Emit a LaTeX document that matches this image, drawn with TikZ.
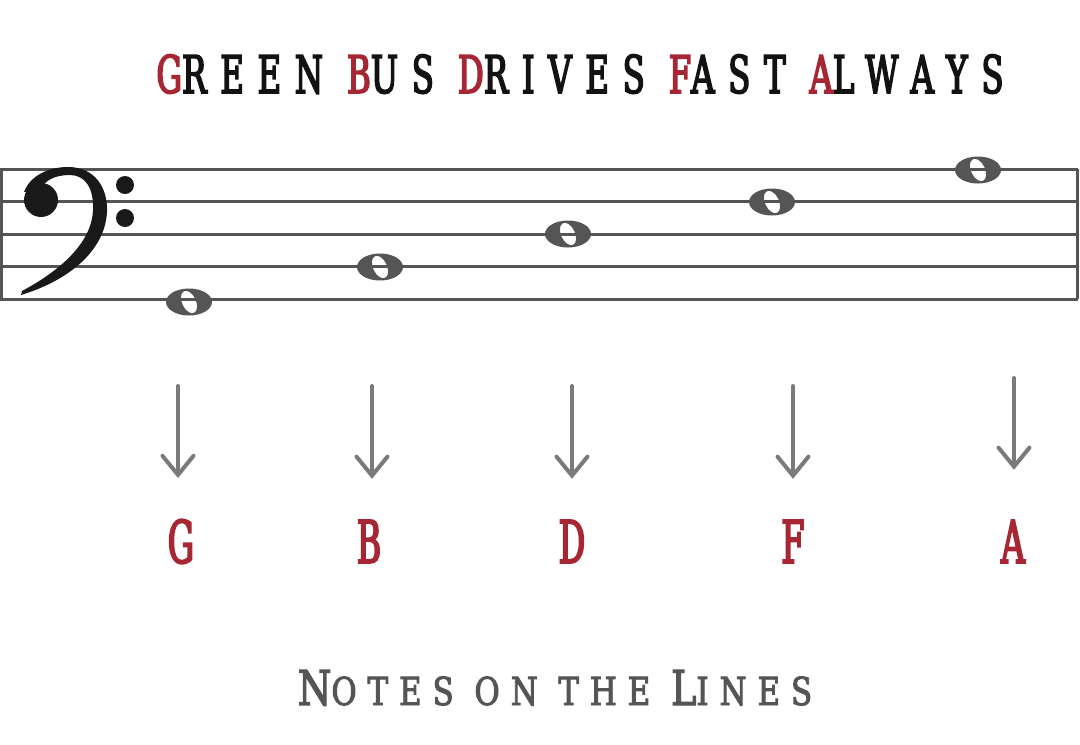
\documentclass[tikz,border=0pt]{standalone}
\usepackage{fontspec}
\usepackage{tikz}
\usetikzlibrary{
  arrows.meta,
}
\newfontfamily\titlefont[FakeStretch=0.62, FakeBold=3, LetterSpace=26.5]{DejaVu Serif}
\newfontfamily\letterfont[FakeStretch=0.56, FakeBold=3]{DejaVu Serif}
\newfontfamily\captionfont[FakeStretch=0.8, FakeBold=2.5, LetterSpace=28.5]{DejaVu Serif}
\definecolor{mnemored}{RGB}{166,38,52}
\definecolor{staffgray}{RGB}{85,85,85}
\definecolor{arrowgray}{RGB}{122,122,122}
\tikzset{
  staffline/.style = {
    staffgray,
    line width = 3pt
  },
  pointer/.style = {
    -{Straight Barb[length = 19pt, width = 31pt, line cap = round]},
    arrowgray,
    line width = 4pt,
    line cap = round
  },
  letter/.style = {
    anchor = base,
    inner sep = 0pt,
    text = mnemored,
    font = \letterfont\fontsize{59pt}{59pt}\selectfont
  },
  title/.style = {
    anchor = base,
    inner sep = 0pt,
    text = black!93,
    font = \titlefont\fontsize{52pt}{52pt}\selectfont
  },
  caption/.style = {
    anchor = base,
    inner sep = 0pt,
    text = staffgray,
    font = \captionfont\fontsize{38.5pt}{38.5pt}\selectfont
  },
  wholenote/.pic = {
    \fill[staffgray, even odd rule] (0,0) ellipse [x radius = 23, y radius = 13.5]
      (0,0) ellipse [x radius = 7, y radius = 12, rotate = 25];
  },
}
\newcommand{\hl}[1]{\textcolor{mnemored}{#1}}
\newcommand{\capbig}[1]{{\fontsize{48pt}{48pt}\selectfont #1}}

\begin{document}
\begin{tikzpicture}[x = 1pt, y = -1pt]
  \useasboundingbox[fill = white] (0,0) rectangle (1080,745);
  % staff
  \foreach \y in {169, 201.5, 234, 266.5, 299}
    \draw[staffline] (0,\y) -- (1078,\y);
  \draw[staffline] (1.5,169) -- (1.5,299);
  \draw[staffline] (1077,169) -- (1077,299);
  % bass clef
  \fill[black!90] (24,192) .. controls (30,176) and (48,167) .. (68,167)
    .. controls (95,167) and (108,188) .. (107,212)
    .. controls (105,250) and (70,280) .. (21,295)
    -- (22,291)
    .. controls (65,268) and (92,240) .. (93,210)
    .. controls (94,188) and (85,175) .. (70,175)
    .. controls (55,175) and (45,180) .. (40,190) -- cycle;
  \fill[black!90] (41,200) circle (17);
  \fill[black!90] (125,185) circle (9);
  \fill[black!90] (125,218) circle (9);
  % notes
  \pic (noteG) at (189,302) {wholenote};
  \pic (noteB) at (380,267) {wholenote};
  \pic (noteD) at (568,234) {wholenote};
  \pic (noteF) at (772,202) {wholenote};
  \pic (noteA) at (978,170) {wholenote};
  % title
  \node[title] (mnemonic) at (580,93)
    {\hl{G}REEN \hl{B}US \hl{D}RIVES \hl{F}AST \hl{A}LWAYS};
  % letters and arrows
  \foreach \n/\ax/\lx/\top/\gap in {G/178/181/386/41, B/372/369/386/41,
      D/572/572/386/41, F/793/793/386/41, A/1014/1013/378/50} {
    \node[letter] (\n) at (\lx,563) {\n};
    \coordinate (top\n) at (\ax,\top);
    \draw[pointer, shorten > = \gap pt] (top\n) -- (top\n |- \n.north);
  }
  % caption
  \node[caption] (lines) at (555,705)
    {\capbig{N}OTES ON THE \capbig{L}INES};
\end{tikzpicture}
\end{document}
